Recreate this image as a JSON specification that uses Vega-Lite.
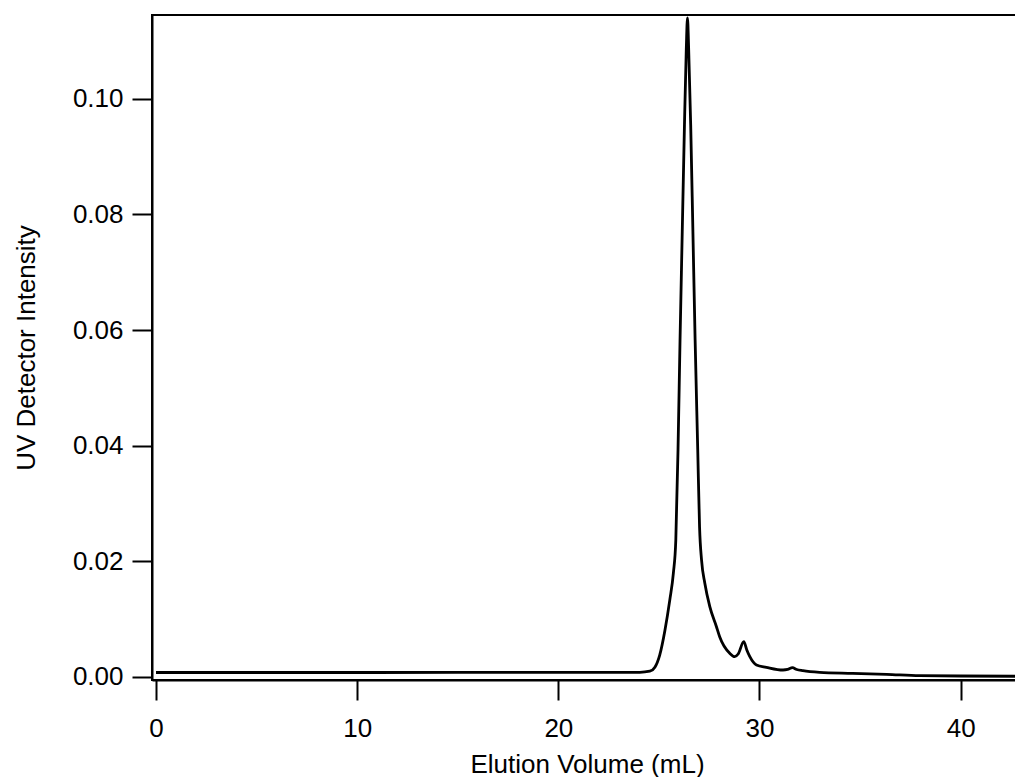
{
  "$schema": "https://vega.github.io/schema/vega-lite/v6.json",
  "width": 870,
  "height": 665,
  "autosize": {"type": "none"},
  "padding": {"left": 152, "top": 15, "right": 0, "bottom": 97},
  "background": "white",
  "config": {
    "view": {"stroke": "black", "strokeWidth": 2},
    "font": "Liberation Sans",
    "axis": {
      "domainColor": "black",
      "domainWidth": 2,
      "tickColor": "black",
      "tickWidth": 2,
      "tickSize": 20,
      "grid": false,
      "labelFont": "Liberation Sans",
      "labelFontSize": 26,
      "labelColor": "black",
      "titleFont": "Liberation Sans",
      "titleFontSize": 26,
      "titleFontWeight": "normal",
      "titleColor": "black"
    }
  },
  "data": {
    "values": [
      {"v": 0, "u": 0.00078},
      {"v": 5, "u": 0.00078},
      {"v": 10, "u": 0.00078},
      {"v": 15, "u": 0.00079},
      {"v": 20, "u": 0.0008},
      {"v": 23, "u": 0.00081},
      {"v": 24.05, "u": 0.00081},
      {"v": 24.55, "u": 0.001},
      {"v": 24.8, "u": 0.0017},
      {"v": 25.04, "u": 0.0038},
      {"v": 25.3, "u": 0.0081},
      {"v": 25.54, "u": 0.0133},
      {"v": 25.72, "u": 0.018},
      {"v": 25.84, "u": 0.0237},
      {"v": 25.95, "u": 0.0393},
      {"v": 26.05, "u": 0.0583},
      {"v": 26.16, "u": 0.077},
      {"v": 26.27, "u": 0.0955},
      {"v": 26.36, "u": 0.1085},
      {"v": 26.42, "u": 0.114},
      {"v": 26.48, "u": 0.1085},
      {"v": 26.58, "u": 0.0955},
      {"v": 26.69, "u": 0.077},
      {"v": 26.8, "u": 0.0583},
      {"v": 26.93, "u": 0.0393},
      {"v": 27.02, "u": 0.0260},
      {"v": 27.12, "u": 0.0202},
      {"v": 27.28, "u": 0.01626},
      {"v": 27.53, "u": 0.01216},
      {"v": 27.86, "u": 0.0087},
      {"v": 28.02, "u": 0.00697},
      {"v": 28.52, "u": 0.0041},
      {"v": 28.77, "u": 0.00351},
      {"v": 28.94, "u": 0.00398},
      {"v": 29.22, "u": 0.00611},
      {"v": 29.37, "u": 0.00467},
      {"v": 29.52, "u": 0.00351},
      {"v": 29.85, "u": 0.00208},
      {"v": 30.34, "u": 0.00168},
      {"v": 31.17, "u": 0.00121},
      {"v": 31.4, "u": 0.0013},
      {"v": 31.64, "u": 0.00161},
      {"v": 31.85, "u": 0.0013},
      {"v": 32.16, "u": 0.00109},
      {"v": 32.99, "u": 0.00081},
      {"v": 34.63, "u": 0.00064},
      {"v": 36.32, "u": 0.00047},
      {"v": 37.96, "u": 0.00022},
      {"v": 40.0, "u": 0.00017},
      {"v": 43.0, "u": 0.00012}
    ]
  },
  "mark": {"type": "line", "color": "black", "strokeWidth": 2.8, "clip": true, "interpolate": "monotone"},
  "encoding": {
    "x": {
      "field": "v",
      "type": "quantitative",
      "scale": {"domain": [-0.2, 43.05], "nice": false, "zero": false},
      "axis": {
        "title": "Elution Volume (mL)",
        "values": [0, 10, 20, 30, 40],
        "format": "d",
        "labelPadding": 15,
        "titlePadding": 10,
        "labelFlush": false,
        "labelOverlap": false
      }
    },
    "y": {
      "field": "u",
      "type": "quantitative",
      "scale": {"domain": [-0.00052, 0.1145], "nice": false, "zero": false},
      "axis": {
        "title": "UV Detector Intensity",
        "values": [0, 0.02, 0.04, 0.06, 0.08, 0.1],
        "format": ".2f",
        "labelPadding": 9,
        "titlePadding": 33,
        "labelFlush": false,
        "labelOverlap": false
      }
    }
  }
}
